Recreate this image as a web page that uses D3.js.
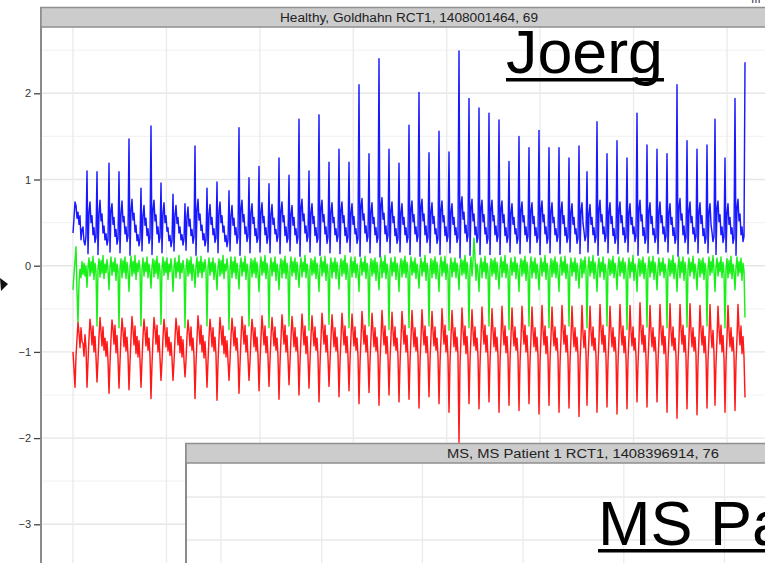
<!DOCTYPE html>
<html><head><meta charset="utf-8">
<script src="https://cdn.jsdelivr.net/npm/d3@7"></script>
<style>html,body{margin:0;padding:0;background:#fff;overflow:hidden}</style>
</head><body>
<svg id="c" width="765" height="563"></svg>
<script>
// ---------- data ----------
const stripTitle1 = "Healthy, Goldhahn RCT1, 1408001464, 69";
const stripTitle2 = "MS, MS Patient 1 RCT1, 1408396914, 76";
const overlayName1 = "Joerg";
const overlayName2 = "MS Patient";
const yTicks = [-3, -2, -1, 0, 1, 2];
const yGridMinor = [-3.5, -2.5, -1.5, -0.5, 0.5, 1.5, 2.5];
const xGrid = [0, 1, 2, 3, 4, 5, 6, 7];
const panel2GridX = [0, 1, 2, 3, 4, 5];
const panel2GridY = [1.0, 0.5];
const sampleStep = 7 / 654; // time units between samples

const blueChunks = [
 [0.38,0.55,0.74,0.70,0.55,0.62,0.48,0.58,0.30,0.42,0.45,0.28,0.24,0.34],
 [1.10,0.14,0.62,0.74,0.50,0.58,0.36,0.44,0.27,0.33],
 [1.09,0.13,0.60,0.76,0.52,0.60,0.38,0.46,0.30,0.37,0.24,0.30],
 [1.19,0.16,0.64,0.72,0.48,0.56,0.34,0.42,0.25,0.31],
 [1.09,0.15,0.60,0.75,0.51,0.57,0.37,0.45,0.28,0.34],
 [1.47,0.12,0.63,0.77,0.53,0.61,0.39,0.47,0.29,0.36,0.23,0.31],
 [0.90,0.17,0.58,0.70,0.47,0.55,0.35,0.43,0.26,0.32],
 [1.62,0.13,0.65,0.76,0.52,0.59,0.37,0.45,0.27,0.33],
 [0.96,0.15,0.61,0.73,0.50,0.58,0.40,0.44,0.29,0.35,0.22,0.29],
 [0.83,0.17,0.59,0.70,0.49,0.56,0.38,0.45,0.30,0.36,0.24,0.31],
 [0.72,0.18,0.57,0.68,0.46,0.54,0.35,0.42,0.26,0.33],
 [1.39,0.12,0.64,0.77,0.53,0.60,0.41,0.47,0.30,0.37,0.23,0.30],
 [0.90,0.16,0.60,0.71,0.48,0.56,0.36,0.43,0.27,0.32],
 [0.97,0.15,0.62,0.74,0.50,0.58,0.39,0.46,0.28,0.35,0.22,0.30],
 [0.87,0.17,0.58,0.70,0.47,0.55,0.36,0.44,0.26,0.33],
 [1.60,0.12,0.66,0.76,0.51,0.59,0.37,0.45,0.28,0.34],
 [1.02,0.15,0.61,0.72,0.49,0.56,0.35,0.43,0.27,0.32],
 [1.15,0.16,0.62,0.73,0.50,0.57,0.36,0.44,0.26,0.33],
 [0.95,0.15,0.59,0.71,0.48,0.55,0.37,0.42,0.28,0.34],
 [1.25,0.14,0.63,0.74,0.51,0.58,0.35,0.45,0.27,0.32],
 [1.05,0.17,0.60,0.70,0.47,0.56,0.36,0.43,0.26,0.33],
 [1.70,0.11,0.67,0.77,0.52,0.60,0.38,0.46,0.28,0.34],
 [1.10,0.16,0.61,0.72,0.49,0.57,0.35,0.44,0.27,0.32],
 [1.75,0.12,0.66,0.76,0.51,0.59,0.37,0.45,0.26,0.33],
 [1.20,0.15,0.62,0.73,0.50,0.56,0.36,0.43,0.28,0.34],
 [1.35,0.14,0.64,0.74,0.50,0.58,0.35,0.44,0.27,0.33],
 [1.20,0.16,0.61,0.72,0.48,0.57,0.37,0.43,0.26,0.32],
 [2.10,0.11,0.68,0.78,0.53,0.60,0.38,0.46,0.28,0.34],
 [1.30,0.15,0.62,0.73,0.49,0.56,0.36,0.44,0.27,0.33],
 [2.40,0.10,0.69,0.79,0.54,0.61,0.37,0.46,0.28,0.35],
 [1.35,0.15,0.63,0.74,0.50,0.57,0.35,0.43,0.26,0.32],
 [1.19,0.16,0.61,0.72,0.48,0.56,0.36,0.44,0.27,0.33],
 [1.63,0.13,0.65,0.75,0.51,0.59,0.37,0.45,0.28,0.34],
 [2.01,0.11,0.67,0.77,0.52,0.60,0.36,0.46,0.27,0.33],
 [1.31,0.15,0.62,0.73,0.49,0.57,0.37,0.43,0.26,0.32],
 [1.56,0.13,0.64,0.75,0.51,0.58,0.35,0.45,0.28,0.34],
 [1.32,0.15,0.62,0.72,0.48,0.56,0.36,0.44,0.27,0.33],
 [2.49,0.09,0.70,0.80,0.54,0.62,0.38,0.47,0.28,0.35],
 [1.94,0.12,0.67,0.77,0.52,0.60,0.36,0.45,0.27,0.33],
 [1.83,0.13,0.66,0.76,0.51,0.59,0.37,0.44,0.26,0.32],
 [1.77,0.13,0.65,0.76,0.52,0.58,0.36,0.46,0.28,0.34],
 [1.69,0.13,0.66,0.75,0.50,0.59,0.35,0.44,0.27,0.33],
 [1.21,0.16,0.61,0.72,0.48,0.56,0.37,0.43,0.26,0.32],
 [1.50,0.14,0.64,0.74,0.51,0.58,0.36,0.45,0.28,0.34],
 [1.37,0.15,0.63,0.73,0.49,0.57,0.35,0.44,0.27,0.33],
 [1.57,0.13,0.65,0.75,0.51,0.59,0.37,0.45,0.26,0.32],
 [1.37,0.15,0.62,0.73,0.50,0.56,0.36,0.43,0.28,0.34],
 [1.37,0.14,0.63,0.74,0.49,0.58,0.35,0.44,0.27,0.33],
 [1.25,0.16,0.61,0.72,0.48,0.56,0.37,0.43,0.26,0.32],
 [1.39,0.14,0.63,0.73,0.49,0.40,0.29,0.35],
 [1.09,0.16,0.60,0.71,0.48,0.56,0.36,0.44,0.27,0.33],
 [1.67,0.12,0.65,0.76,0.51,0.59,0.37,0.45,0.28,0.34],
 [1.30,0.15,0.62,0.73,0.49,0.57,0.35,0.43,0.26,0.32],
 [1.45,0.14,0.64,0.74,0.50,0.58,0.36,0.44,0.27,0.33],
 [1.25,0.16,0.61,0.72,0.48,0.56,0.37,0.45,0.28,0.34],
 [1.77,0.12,0.66,0.76,0.52,0.59,0.35,0.44,0.26,0.32],
 [1.40,0.15,0.63,0.73,0.49,0.57,0.36,0.43,0.27,0.33],
 [1.35,0.14,0.62,0.74,0.50,0.58,0.37,0.45,0.28,0.34],
 [1.30,0.16,0.61,0.72,0.48,0.56,0.35,0.44,0.26,0.32],
 [2.10,0.11,0.68,0.78,0.53,0.60,0.36,0.46,0.27,0.33],
 [1.45,0.14,0.63,0.74,0.50,0.57,0.37,0.44,0.28,0.34],
 [1.35,0.15,0.62,0.73,0.49,0.58,0.35,0.43,0.26,0.32],
 [1.40,0.15,0.62,0.72,0.48,0.39,0.28,0.34],
 [1.70,0.13,0.66,0.75,0.51,0.59,0.36,0.45,0.27,0.33],
 [1.25,0.16,0.61,0.72,0.48,0.56,0.37,0.44,0.26,0.32],
 [1.94,0.12,0.67,0.77,0.52,0.60,0.36,0.45,0.28,0.34],
 [2.36]
];

const greenChunks = [
 [-0.28,-0.10,0.06,0.22,-0.30,-0.66,-0.20,-0.04,-0.14,0.05,-0.10,0.03,-0.12,0.00],
 [-0.25,-0.02,0.09,-0.12,0.05,-0.08,0.11,-0.16,0.03,-0.07],
 [-0.70,-0.04,0.08,-0.13,0.06,-0.09,0.12,-0.15,0.02,-0.08,0.07,-0.05],
 [-0.28,-0.01,0.10,-0.11,0.04,-0.07,0.09,-0.17,0.02,-0.06],
 [-0.72,-0.03,0.08,-0.14,0.06,-0.08,0.10,-0.15,0.04,-0.07],
 [-0.30,-0.02,0.11,-0.12,0.05,-0.09,0.12,-0.16,0.03,-0.07,0.06,-0.04],
 [-0.70,-0.04,0.09,-0.12,0.04,-0.07,0.10,-0.14,0.02,-0.08],
 [-0.26,-0.01,0.08,-0.13,0.06,-0.09,0.11,-0.15,0.03,-0.06],
 [-0.68,-0.03,0.10,-0.11,0.05,-0.08,0.09,-0.16,0.02,-0.07,0.08,-0.05],
 [-0.30,-0.02,0.09,-0.14,0.04,-0.07,0.12,-0.15,0.03,-0.08,0.06,-0.04],
 [-0.72,-0.04,0.08,-0.12,0.06,-0.09,0.10,-0.17,0.02,-0.06],
 [-0.25,-0.01,0.10,-0.13,0.05,-0.08,0.11,-0.14,0.04,-0.07,0.07,-0.05],
 [-0.70,-0.03,0.09,-0.11,0.04,-0.07,0.09,-0.16,0.03,-0.08],
 [-0.28,-0.02,0.08,-0.12,0.06,-0.09,0.12,-0.15,0.02,-0.06,0.08,-0.04],
 [-0.74,-0.04,0.10,-0.14,0.05,-0.08,0.10,-0.15,0.03,-0.07],
 [-0.27,-0.01,0.09,-0.12,0.04,-0.07,0.11,-0.16,0.02,-0.06],
 [-0.70,-0.03,0.08,-0.13,0.06,-0.09,0.09,-0.14,0.04,-0.08],
 [-0.30,-0.02,0.10,-0.11,0.05,-0.08,0.12,-0.15,0.03,-0.07],
 [-0.72,-0.04,0.09,-0.12,0.04,-0.07,0.10,-0.17,0.02,-0.06],
 [-0.28,-0.01,0.08,-0.14,0.06,-0.09,0.11,-0.15,0.03,-0.08],
 [-0.70,-0.03,0.10,-0.12,0.05,-0.08,0.09,-0.16,0.04,-0.07],
 [-0.25,-0.02,0.09,-0.13,0.04,-0.07,0.12,-0.14,0.02,-0.06],
 [-0.75,-0.04,0.08,-0.11,0.06,-0.09,0.10,-0.15,0.03,-0.08],
 [-0.30,-0.01,0.10,-0.12,0.05,-0.08,0.11,-0.17,0.02,-0.07],
 [-0.68,-0.03,0.09,-0.14,0.04,-0.07,0.09,-0.15,0.04,-0.06],
 [-0.27,-0.02,0.08,-0.12,0.06,-0.09,0.12,-0.16,0.03,-0.08],
 [-0.72,-0.04,0.10,-0.13,0.05,-0.08,0.10,-0.14,0.02,-0.07],
 [-0.30,-0.01,0.09,-0.11,0.04,-0.07,0.11,-0.15,0.03,-0.06],
 [-0.70,-0.03,0.08,-0.12,0.06,-0.09,0.09,-0.17,0.04,-0.08],
 [-0.28,-0.02,0.10,-0.14,0.05,-0.08,0.12,-0.15,0.02,-0.07],
 [-0.74,-0.04,0.09,-0.12,0.04,-0.07,0.10,-0.16,0.03,-0.06],
 [-0.30,-0.01,0.08,-0.13,0.06,-0.09,0.11,-0.14,0.04,-0.08],
 [-0.72,-0.03,0.10,-0.11,0.05,-0.08,0.09,-0.15,0.02,-0.07],
 [-0.26,-0.02,0.09,-0.12,0.04,-0.07,0.12,-0.17,0.03,-0.06],
 [-0.70,-0.04,0.08,-0.14,0.06,-0.09,0.10,-0.15,0.04,-0.08],
 [-0.30,-0.01,0.10,-0.12,0.05,-0.08,0.11,-0.16,0.02,-0.07],
 [-0.75,-0.03,0.09,-0.13,0.04,-0.07,0.09,-0.14,0.03,-0.06],
 [-0.28,-0.02,0.08,-0.11,0.06,-0.09,0.12,-0.15,0.04,-0.08],
 [-0.72,-0.04,0.10,-0.12,0.05,0.32,0.10,-0.17,0.02,-0.07],
 [-0.30,-0.01,0.09,-0.14,0.04,-0.07,0.11,-0.15,0.03,-0.06],
 [-0.70,-0.03,0.08,-0.12,0.06,-0.09,0.09,-0.16,0.04,-0.08],
 [-0.27,-0.02,0.10,-0.13,0.05,-0.08,0.12,-0.14,0.02,-0.07],
 [-0.74,-0.04,0.09,-0.11,0.04,-0.07,0.10,-0.15,0.03,-0.06],
 [-0.30,-0.01,0.08,-0.12,0.06,-0.09,0.11,-0.17,0.04,-0.08],
 [-0.70,-0.03,0.10,-0.14,0.05,-0.08,0.09,-0.15,0.02,-0.07],
 [-0.28,-0.02,0.09,-0.12,0.04,-0.07,0.12,-0.16,0.03,-0.06],
 [-0.72,-0.04,0.08,-0.13,0.06,-0.09,0.10,-0.14,0.04,-0.08],
 [-0.30,-0.01,0.10,-0.11,0.05,-0.08,0.11,-0.15,0.02,-0.07],
 [-0.70,-0.03,0.09,-0.12,0.04,-0.07,0.09,-0.17,0.03,-0.06],
 [-0.26,-0.02,0.08,-0.14,0.06,-0.09,0.10,-0.05],
 [-0.72,-0.04,0.10,-0.12,0.05,-0.08,0.12,-0.15,0.04,-0.08],
 [-0.30,-0.01,0.09,-0.13,0.04,-0.07,0.10,-0.16,0.02,-0.07],
 [-0.70,-0.03,0.08,-0.11,0.06,-0.09,0.11,-0.14,0.03,-0.06],
 [-0.28,-0.02,0.10,-0.12,0.05,-0.08,0.09,-0.15,0.04,-0.08],
 [-0.74,-0.04,0.09,-0.14,0.04,-0.07,0.12,-0.17,0.02,-0.07],
 [-0.30,-0.01,0.08,-0.12,0.06,-0.09,0.10,-0.15,0.03,-0.06],
 [-0.71,-0.03,0.10,-0.13,0.05,-0.08,0.11,-0.16,0.04,-0.08],
 [-0.28,-0.02,0.09,-0.11,0.04,-0.07,0.09,-0.14,0.02,-0.07],
 [-0.72,-0.04,0.08,-0.12,0.06,-0.09,0.12,-0.15,0.03,-0.06],
 [-0.30,-0.01,0.10,-0.14,0.05,-0.08,0.10,-0.17,0.04,-0.08],
 [-0.71,-0.03,0.09,-0.12,0.04,-0.07,0.11,-0.15,0.02,-0.07],
 [-0.28,-0.02,0.08,-0.13,0.06,-0.09,0.09,-0.16,0.03,-0.06],
 [-0.70,-0.04,0.10,-0.11,0.05,-0.08,0.12,-0.05],
 [-0.30,-0.01,0.09,-0.12,0.04,-0.07,0.10,-0.14,0.04,-0.08],
 [-0.72,-0.03,0.08,-0.14,0.06,-0.09,0.11,-0.15,0.02,-0.07],
 [-0.28,-0.02,0.10,-0.12,0.05,-0.08,0.09,-0.17,0.03,-0.06],
 [-0.60]
];

const redChunks = [
 [-1.00,-1.20,-1.41,-1.05,-0.85,-0.66,-0.78,-0.95,-0.72,-0.88,-0.90,-1.05,-0.80,-0.95],
 [-1.41,-1.12,-0.84,-0.62,-0.74,-0.92,-0.70,-1.00,-0.82,-1.06],
 [-1.35,-1.10,-0.82,-0.60,-0.76,-0.93,-0.71,-0.98,-0.84,-1.05,-0.88,-1.10],
 [-1.48,-1.13,-0.85,-0.63,-0.73,-0.91,-0.69,-1.01,-0.81,-1.07],
 [-1.42,-1.11,-0.83,-0.61,-0.75,-0.94,-0.72,-0.99,-0.83,-1.04],
 [-1.44,-1.12,-0.84,-0.59,-0.74,-0.92,-0.70,-1.02,-0.82,-1.06,-0.87,-1.09],
 [-1.41,-1.10,-0.82,-0.62,-0.76,-0.93,-0.71,-0.98,-0.84,-1.05],
 [-1.54,-1.14,-0.85,-0.60,-0.73,-0.91,-0.69,-1.00,-0.81,-1.07],
 [-1.33,-1.11,-0.83,-0.62,-0.75,-0.94,-0.72,-0.99,-0.83,-1.04,-0.89,-1.08],
 [-1.33,-1.12,-0.84,-0.61,-0.74,-0.92,-0.70,-1.01,-0.82,-1.06,-0.86,-1.10],
 [-1.29,-1.10,-0.82,-0.63,-0.76,-0.93,-0.71,-0.98,-0.84,-1.05],
 [-1.54,-1.13,-0.85,-0.58,-0.73,-0.91,-0.69,-1.00,-0.81,-1.07,-0.88,-1.09],
 [-1.41,-1.11,-0.83,-0.62,-0.75,-0.94,-0.72,-0.99,-0.83,-1.04],
 [-1.56,-1.12,-0.84,-0.60,-0.74,-0.92,-0.70,-1.02,-0.82,-1.06,-0.87,-1.10],
 [-1.33,-1.10,-0.82,-0.61,-0.76,-0.93,-0.71,-0.98,-0.84,-1.05],
 [-1.48,-1.14,-0.85,-0.59,-0.73,-0.91,-0.69,-1.00,-0.81,-1.07],
 [-1.33,-1.11,-0.83,-0.62,-0.75,-0.94,-0.72,-0.99,-0.83,-1.04],
 [-1.45,-1.12,-0.84,-0.58,-0.74,-0.92,-0.70,-1.01,-0.82,-1.06],
 [-1.40,-1.10,-0.82,-0.60,-0.76,-0.93,-0.71,-0.98,-0.84,-1.05],
 [-1.55,-1.13,-0.85,-0.57,-0.73,-0.91,-0.69,-1.00,-0.81,-1.07],
 [-1.38,-1.11,-0.83,-0.59,-0.75,-0.94,-0.72,-0.99,-0.83,-1.04],
 [-1.50,-1.12,-0.84,-0.56,-0.74,-0.92,-0.70,-1.02,-0.82,-1.06],
 [-1.42,-1.10,-0.82,-0.58,-0.76,-0.93,-0.71,-0.98,-0.84,-1.05],
 [-1.58,-1.14,-0.85,-0.55,-0.73,-0.91,-0.69,-1.00,-0.81,-1.07],
 [-1.40,-1.11,-0.83,-0.57,-0.75,-0.94,-0.72,-0.99,-0.83,-1.04],
 [-1.52,-1.12,-0.84,-0.55,-0.74,-0.92,-0.70,-1.01,-0.82,-1.06],
 [-1.45,-1.10,-0.82,-0.56,-0.76,-0.93,-0.71,-0.98,-0.84,-1.05],
 [-1.60,-1.13,-0.85,-0.53,-0.73,-0.91,-0.69,-1.00,-0.81,-1.07],
 [-1.47,-1.11,-0.83,-0.55,-0.75,-0.94,-0.72,-0.99,-0.83,-1.04],
 [-1.62,-1.12,-0.84,-0.52,-0.74,-0.92,-0.70,-1.02,-0.82,-1.06],
 [-1.50,-1.10,-0.82,-0.54,-0.76,-0.93,-0.71,-0.98,-0.84,-1.05],
 [-1.58,-1.14,-0.85,-0.53,-0.73,-0.91,-0.69,-1.00,-0.81,-1.07],
 [-1.55,-1.11,-0.83,-0.52,-0.75,-0.94,-0.72,-0.99,-0.83,-1.04],
 [-1.65,-1.12,-0.84,-0.51,-0.74,-0.92,-0.70,-1.01,-0.82,-1.06],
 [-1.52,-1.10,-0.82,-0.53,-0.76,-0.93,-0.71,-0.98,-0.84,-1.05],
 [-1.60,-1.13,-0.85,-0.50,-0.73,-0.91,-0.69,-1.00,-0.81,-1.07],
 [-1.70,-1.11,-0.83,-0.52,-0.75,-0.94,-0.72,-0.99,-0.83,-1.04],
 [-2.05,-1.15,-0.84,-0.49,-0.74,-0.92,-0.70,-1.02,-0.82,-1.06],
 [-1.60,-1.10,-0.82,-0.51,-0.76,-0.93,-0.71,-0.98,-0.84,-1.05],
 [-1.66,-1.14,-0.85,-0.48,-0.73,-0.91,-0.69,-1.00,-0.81,-1.07],
 [-1.58,-1.11,-0.83,-0.50,-0.75,-0.94,-0.72,-0.99,-0.83,-1.04],
 [-1.70,-1.12,-0.84,-0.47,-0.74,-0.92,-0.70,-1.01,-0.82,-1.06],
 [-1.62,-1.10,-0.82,-0.49,-0.76,-0.93,-0.71,-0.98,-0.84,-1.05],
 [-1.68,-1.13,-0.85,-0.47,-0.73,-0.91,-0.69,-1.00,-0.81,-1.07],
 [-1.60,-1.11,-0.83,-0.48,-0.75,-0.94,-0.72,-0.99,-0.83,-1.04],
 [-1.72,-1.12,-0.84,-0.46,-0.74,-0.92,-0.70,-1.02,-0.82,-1.06],
 [-1.62,-1.10,-0.82,-0.48,-0.76,-0.93,-0.71,-0.98,-0.84,-1.05],
 [-1.70,-1.14,-0.85,-0.46,-0.73,-0.91,-0.69,-1.00,-0.81,-1.07],
 [-1.65,-1.11,-0.83,-0.47,-0.75,-0.94,-0.72,-0.99,-0.83,-1.04],
 [-1.75,-1.12,-0.84,-0.46,-0.78,-0.95,-0.75,-1.02],
 [-1.62,-1.10,-0.82,-0.47,-0.76,-0.93,-0.71,-0.98,-0.84,-1.05],
 [-1.70,-1.13,-0.85,-0.45,-0.73,-0.91,-0.69,-1.00,-0.81,-1.07],
 [-1.64,-1.11,-0.83,-0.47,-0.75,-0.94,-0.72,-0.99,-0.83,-1.04],
 [-1.72,-1.12,-0.84,-0.45,-0.74,-0.92,-0.70,-1.01,-0.82,-1.06],
 [-1.66,-1.10,-0.82,-0.46,-0.76,-0.93,-0.71,-0.98,-0.84,-1.05],
 [-1.58,-1.14,-0.85,-0.43,-0.73,-0.91,-0.69,-1.00,-0.81,-1.07],
 [-1.64,-1.11,-0.83,-0.46,-0.75,-0.94,-0.72,-0.99,-0.83,-1.04],
 [-1.58,-1.12,-0.84,-0.45,-0.74,-0.92,-0.70,-1.02,-0.82,-1.06],
 [-1.70,-1.10,-0.82,-0.44,-0.76,-0.93,-0.71,-0.98,-0.84,-1.05],
 [-1.77,-1.13,-0.85,-0.45,-0.73,-0.91,-0.69,-1.00,-0.81,-1.07],
 [-1.66,-1.11,-0.83,-0.44,-0.75,-0.94,-0.72,-0.99,-0.83,-1.04],
 [-1.73,-1.12,-0.84,-0.46,-0.74,-0.92,-0.70,-1.01,-0.82,-1.06],
 [-1.65,-1.10,-0.82,-0.45,-0.78,-0.95,-0.75,-1.02],
 [-1.62,-1.13,-0.85,-0.47,-0.73,-0.91,-0.69,-1.00,-0.81,-1.07],
 [-1.70,-1.11,-0.83,-0.46,-0.75,-0.94,-0.72,-0.99,-0.83,-1.04],
 [-1.68,-1.12,-0.84,-0.45,-0.74,-0.92,-0.70,-1.02,-0.82,-1.06],
 [-1.53]
];

const seriesColors = ["#0000ff", "#00ee00", "#ff0000"];

// ---------- drawing ----------
const FONT = "'Liberation Sans', Arial, sans-serif";
const svg = d3.select("#c");

const x = d3.scaleLinear().domain([0, 7]).range([73, 727]);
const y = d3.scaleLinear().domain([-3, 2]).range([524.3, 93.3]);

// panel 1 background
svg.append("rect").attr("x", 41).attr("y", 27).attr("width", 760).attr("height", 560).attr("fill", "#fff");

// grid
const grid = svg.append("g");
grid.selectAll(".gm").data(yGridMinor).join("line")
  .attr("x1", 41).attr("x2", 765).attr("y1", d => y(d)).attr("y2", d => y(d))
  .attr("stroke", "#f3f3f3").attr("stroke-width", 1.2);
grid.selectAll(".gM").data(yTicks).join("line")
  .attr("x1", 41).attr("x2", 765).attr("y1", d => y(d)).attr("y2", d => y(d))
  .attr("stroke", "#e6e6e6").attr("stroke-width", 1.4);
grid.selectAll(".gx").data(xGrid).join("line")
  .attr("x1", d => x(d)).attr("x2", d => x(d)).attr("y1", 27).attr("y2", 563)
  .attr("stroke", "#ebebeb").attr("stroke-width", 1.4);

// series
const series = [blueChunks.flat(), greenChunks.flat(), redChunks.flat()];
const line = d3.line().x((d, i) => x(i * sampleStep)).y(d => y(d));
svg.append("g").selectAll("path").data(series).join("path")
  .attr("d", line)
  .attr("fill", "none")
  .attr("stroke", (d, i) => seriesColors[i])
  .attr("stroke-width", 1.45)
  .attr("stroke-opacity", 0.9)
  .attr("stroke-linejoin", "round");

// y axis
const yAxis = d3.axisLeft(y).tickValues(yTicks).tickFormat(d3.format("d")).tickSize(7).tickPadding(3);
const ax = svg.append("g").attr("transform", "translate(41,0)").call(yAxis);
ax.select(".domain").remove();
ax.selectAll(".tick line").attr("stroke", "#444").attr("stroke-width", 1.3);
ax.selectAll(".tick text").attr("font-family", FONT).attr("font-size", 11).attr("fill", "#333");

// panel 1 left border
svg.append("line").attr("x1", 41).attr("x2", 41).attr("y1", 7).attr("y2", 563)
  .attr("stroke", "#8a8a8a").attr("stroke-width", 2);

// strip 1
svg.append("rect").attr("x", 41).attr("y", 7.5).attr("width", 740).attr("height", 19.5)
  .attr("fill", "#cccccc").attr("stroke", "#8f8f8f").attr("stroke-width", 1.5);
svg.append("text").attr("x", 409).attr("y", 21.5).attr("text-anchor", "middle")
  .attr("font-family", FONT).attr("font-size", 12.5).attr("fill", "#222")
  .attr("textLength", 258).attr("lengthAdjust", "spacingAndGlyphs")
  .text(stripTitle1);

// overlay name 1
svg.append("text").attr("x", 506).attr("y", 73)
  .attr("font-family", FONT).attr("font-size", 62).attr("fill", "#000")
  .attr("textLength", 157).attr("lengthAdjust", "spacingAndGlyphs")
  .text(overlayName1);
svg.append("rect").attr("x", 506).attr("y", 78).attr("width", 158).attr("height", 3.5).attr("fill", "#000");

// ---------- panel 2 ----------
const x2 = d3.scaleLinear().domain([0, 5]).range([221, 724.5]);
const y2 = d3.scaleLinear().domain([0, 1]).range([583, 497]);
svg.append("rect").attr("x", 186).attr("y", 443).attr("width", 600).attr("height", 140).attr("fill", "#fff");
svg.append("g").selectAll("line").data(panel2GridY).join("line")
  .attr("x1", 186).attr("x2", 765).attr("y1", d => y2(d)).attr("y2", d => y2(d))
  .attr("stroke", "#e8e8e8").attr("stroke-width", 1.3);
svg.append("g").selectAll("line").data(panel2GridX).join("line")
  .attr("x1", d => x2(d)).attr("x2", d => x2(d)).attr("y1", 463).attr("y2", 563)
  .attr("stroke", "#ebebeb").attr("stroke-width", 1.3);
svg.append("line").attr("x1", 186).attr("x2", 186).attr("y1", 443).attr("y2", 563)
  .attr("stroke", "#8a8a8a").attr("stroke-width", 2);
svg.append("rect").attr("x", 186).attr("y", 443.5).attr("width", 600).attr("height", 19.5)
  .attr("fill", "#cccccc").attr("stroke", "#8f8f8f").attr("stroke-width", 1.5);
svg.append("text").attr("x", 583).attr("y", 458).attr("text-anchor", "middle")
  .attr("font-family", FONT).attr("font-size", 12.5).attr("fill", "#222")
  .attr("textLength", 272).attr("lengthAdjust", "spacingAndGlyphs")
  .text(stripTitle2);

svg.append("text").attr("x", 598).attr("y", 545)
  .attr("font-family", FONT).attr("font-size", 63).attr("fill", "#000")
  .text(overlayName2);
svg.append("rect").attr("x", 598).attr("y", 549).attr("width", 200).attr("height", 3.5).attr("fill", "#000");

// stray cursor arrow at left edge
svg.append("path").attr("d", "M0,278 L8,284 L1,291 Z").attr("fill", "#111");
// clipped text fragment at the top-right corner
svg.append("text").attr("x", 751).attr("y", 3).attr("font-family", FONT).attr("font-size", 12)
  .attr("fill", "#334").text("ıır");
</script>
</body></html>
